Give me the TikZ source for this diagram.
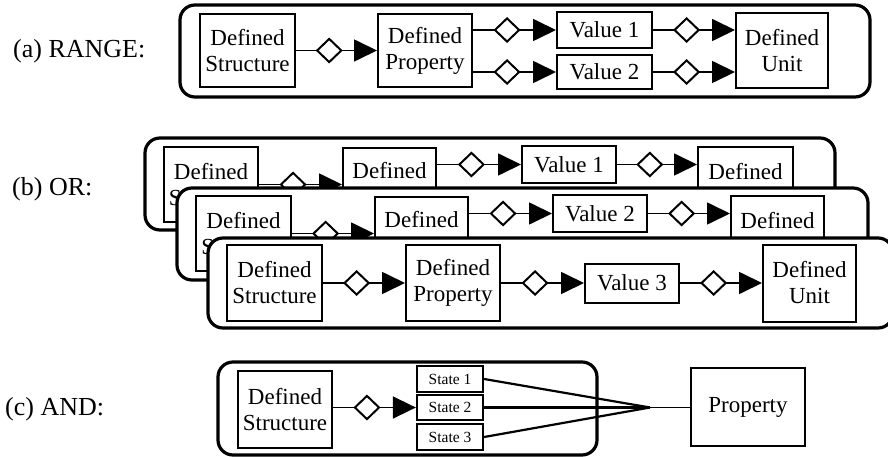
\documentclass[tikz,border=0pt]{standalone}
\usepackage{fontspec}
\setmainfont{Liberation Serif}
\usetikzlibrary{shapes.geometric,arrows.meta}
\tikzset{
  bx/.style={draw, line width=2pt, inner sep=0pt, align=center, fill=white, font=\fontsize{23}{26}\selectfont},
  grp/.style={draw, line width=3.2pt, rounded corners=15pt, fill=white},
  conn/.style={line width=1.7pt, -{Triangle[length=23pt,width=22pt]}},
  dia/.style={diamond, draw, fill=white, line width=2pt, minimum width=25pt, minimum height=24pt, inner sep=0pt, pos=0.41},
  lbl/.style={font=\fontsize{26}{30}\selectfont, anchor=west, inner sep=0pt},
  st/.style={draw, line width=2.3pt, inner sep=0pt, minimum width=66pt, fill=white, font=\fontsize{15.5}{18}\selectfont},
  andline/.style={line width=2.2pt},
}
\begin{document}
\begin{tikzpicture}[x=1pt,y=-1pt]
\useasboundingbox (0,0) rectangle (888,457);
\clip (0,0) rectangle (888,457);

% ---------- (a) RANGE ----------
\node[lbl] (la) at (13,51) {(a) RANGE:};
\draw[grp] (180,5) rectangle (870,97);
\node[bx, minimum width=95pt, minimum height=73pt] (SA) at (247.5,50.5) {Defined\\Structure};
\node[bx, minimum width=94pt, minimum height=73pt] (PA) at (425,50.5) {Defined\\Property};
\node[bx, minimum width=95pt, minimum height=36pt] (VA1) at (604.5,30) {Value 1};
\node[bx, minimum width=95pt, minimum height=34pt] (VA2) at (604.5,72) {Value 2};
\node[bx, minimum width=92pt, minimum height=75pt] (UA) at (782,50.5) {Defined\\Unit};
\draw[conn] (SA.east) -- (PA.west) node[dia] (dA1) {};
\draw[conn] (PA.east |- VA1.west) -- (VA1.west) node[dia] (dA2) {};
\draw[conn] (PA.east |- VA2.west) -- (VA2.west) node[dia] (dA3) {};
\draw[conn] (VA1.east) -- (UA.west |- VA1.east) node[dia] (dA4) {};
\draw[conn] (VA2.east) -- (UA.west |- VA2.east) node[dia] (dA5) {};

% ---------- (b) OR ----------
\node[lbl] (lb) at (12,189) {(b) OR:};
% box 1
\draw[grp] (145,138) rectangle (835,230);
\node[bx, minimum width=94pt, minimum height=75pt] (SB1) at (211,184.5) {Defined\\Structure};
\node[bx, minimum width=93pt, minimum height=75pt] (PB1) at (389.5,185.5) {Defined\\Property};
\node[bx, minimum width=94pt, minimum height=37pt] (VB1) at (569,164.5) {Value 1};
\node[bx, minimum width=95pt, minimum height=75pt] (UB1) at (745.5,184.5) {Defined\\Unit};
\draw[conn] (SB1.east) -- (PB1.west |- SB1.east) node[dia] (dB1a) {};
\draw[conn] (PB1.east |- VB1.west) -- (VB1.west) node[dia] (dB1b) {};
\draw[conn] (VB1.east) -- (UB1.west |- VB1.east) node[dia] (dB1c) {};
% box 2
\draw[grp] (177,188) rectangle (868,280);
\node[bx, minimum width=95pt, minimum height=75pt] (SB2) at (243.5,233.5) {Defined\\Structure};
\node[bx, minimum width=93pt, minimum height=75pt] (PB2) at (421.5,234.5) {Defined\\Property};
\node[bx, minimum width=94pt, minimum height=37pt] (VB2) at (600,213.5) {Value 2};
\node[bx, minimum width=93pt, minimum height=75pt] (UB2) at (777.5,233.5) {Defined\\Unit};
\draw[conn] (SB2.east) -- (PB2.west |- SB2.east) node[dia] (dB2a) {};
\draw[conn] (PB2.east |- VB2.west) -- (VB2.west) node[dia] (dB2b) {};
\draw[conn] (VB2.east) -- (UB2.west |- VB2.east) node[dia] (dB2c) {};
% box 3
\draw[grp] (208,238) rectangle (893,328);
\node[bx, minimum width=95pt, minimum height=76pt] (SB3) at (274.5,283) {Defined\\Structure};
\node[bx, minimum width=94pt, minimum height=76pt] (PB3) at (453,283) {Defined\\Property};
\node[bx, minimum width=94pt, minimum height=39pt] (VB3) at (632,283) {Value 3};
\node[bx, minimum width=93pt, minimum height=77pt] (UB3) at (809.5,283) {Defined\\Unit};
\draw[conn] (SB3.east) -- (PB3.west) node[dia] (dB3a) {};
\draw[conn] (PB3.east) -- (VB3.west) node[dia] (dB3b) {};
\draw[conn] (VB3.east) -- (UB3.west) node[dia] (dB3c) {};

% ---------- (c) AND ----------
\node[lbl] (lc) at (5,409) {(c) AND:};
\draw[grp] (218,362) rectangle (597,455);
\node[bx, minimum width=94pt, minimum height=77pt] (SC) at (285,409.5) {Defined\\Structure};
\node[st, minimum height=26pt] (ST1) at (450,379) {State 1};
\node[st, minimum height=25pt] (ST2) at (450,407.5) {State 2};
\node[st, minimum height=26pt] (ST3) at (450,437) {State 3};
\node[bx, minimum width=114pt, minimum height=78pt] (PC) at (748,407) {Property};
\coordinate (J) at (650,407.5);
\draw[conn] (SC.east |- ST2.west) -- (ST2.west) node[dia] (dC) {};
\draw[andline] (ST1.east) -- (J);
\draw[andline] (ST2.east) -- (J);
\draw[andline] (ST3.east) -- (J);
\draw[line width=1.7pt] (J) -- (PC.west |- J);
\end{tikzpicture}
\end{document}
